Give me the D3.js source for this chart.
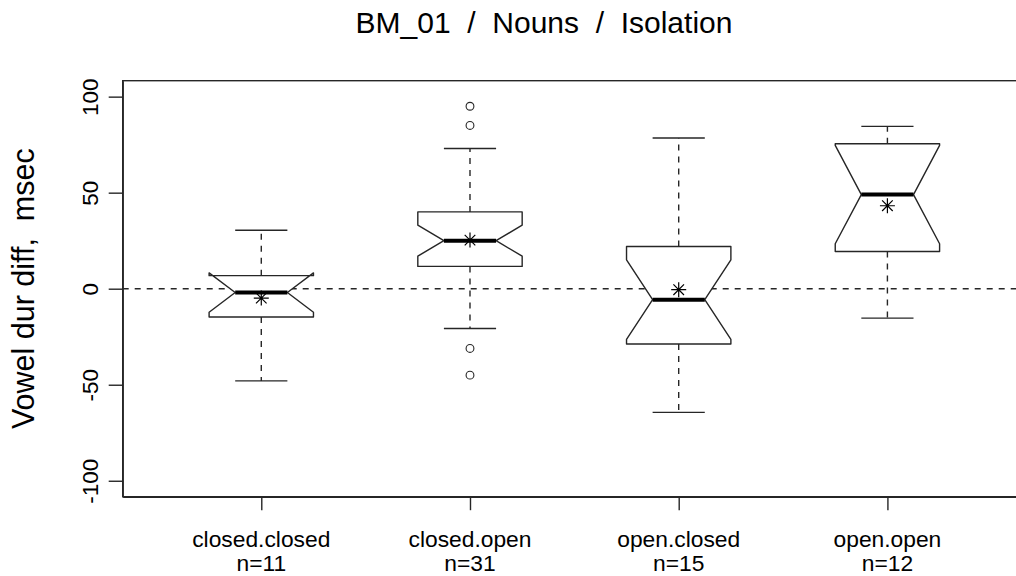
<!DOCTYPE html>
<html>
<head>
<meta charset="utf-8">
<script src="https://cdn.jsdelivr.net/npm/d3@7"></script>
<style>
  body { margin: 0; background: #fff; }
  svg text { font-family: "Liberation Sans", Arial, sans-serif; fill: #000; white-space: pre; }
</style>
</head>
<body>
<div class="chart"></div>
<script>
// values
const groups = ['closed.closed', 'closed.open', 'open.closed', 'open.open'];
const counts = [11, 31, 15, 12];
const whiskerLo = [-48, -20.7, -64.4, -15.3];
const q1 = [-14.7, 11.6, -28.8, 19.4];
const medians = [-2, 25, -5.7, 49];
const q3 = [6.8, 40, 22, 75.5];
const whiskerHi = [30.4, 73, 78.5, 84.5];
const means = [-4.9, 25.3, -0.5, 43.2];
const outliers = [[], [95, 85, -31.1, -45], [], []];
const yTicks = [-100, -50, 0, 50, 100];

const width = 1016, height = 576;
const margin = { top: 80.7, right: -10, bottom: 79.3, left: 122.7 };
const plotBottom = height - margin.bottom;
const plotRight = width - margin.right;

const svg = d3.select('.chart').append('svg')
  .attr('width', width)
  .attr('height', height);

const x = d3.scaleLinear()
  .domain([0.336, 4.664])
  .range([margin.left, plotRight]);

const y = d3.scaleLinear()
  .domain([-108.3, 108.3])
  .range([plotBottom, margin.top]);

const ink = '#262626';
const lw = 1.4;
const dash = '6,6';
const half = 0.25; // box half width in x units

// title + labels
svg.append('text')
  .attr('x', 544)
  .attr('y', 33)
  .attr('text-anchor', 'middle')
  .attr('xml:space', 'preserve')
  .style('font-size', '30px')
  .text('BM_01  /  Nouns  /  Isolation');

svg.append('text')
  .attr('transform', 'translate(34,' + ((margin.top + plotBottom) / 2) + ') rotate(-90)')
  .attr('text-anchor', 'middle')
  .attr('xml:space', 'preserve')
  .style('font-size', '30.5px')
  .text('Vowel dur diff,  msec');

// axes
const yAxis = svg.append('g')
  .attr('transform', 'translate(' + margin.left + ',0)')
  .call(d3.axisLeft(y).tickValues(yTicks).tickSize(14).tickSizeOuter(0).tickFormat(d => String(d)));
yAxis.selectAll('path, line').attr('stroke', ink).attr('stroke-width', lw);
yAxis.selectAll('text')
  .attr('transform', 'rotate(-90)')
  .attr('x', 0)
  .attr('y', -25)
  .attr('dy', 0)
  .attr('text-anchor', 'middle')
  .attr('fill', '#000')
  .style('font-size', '22.5px')
  .style('font-family', '"Liberation Sans", Arial, sans-serif');

const xAxis = svg.append('g')
  .attr('transform', 'translate(0,' + plotBottom + ')')
  .call(d3.axisBottom(x).tickValues([1, 2, 3, 4]).tickSize(13.5).tickSizeOuter(0).tickFormat(''));
xAxis.selectAll('path, line').attr('stroke', ink).attr('stroke-width', lw);

const xLab = svg.append('g').selectAll('g')
  .data(groups)
  .enter()
  .append('g')
  .attr('transform', (d, i) => 'translate(' + x(i + 1) + ',0)');
xLab.append('text')
  .attr('y', 547)
  .attr('text-anchor', 'middle')
  .style('font-size', '22.8px')
  .text(d => d);
xLab.append('text')
  .attr('y', 571)
  .attr('text-anchor', 'middle')
  .style('font-size', '22.8px')
  .text((d, i) => 'n=' + counts[i]);

// frame
svg.append('rect')
  .attr('x', margin.left)
  .attr('y', margin.top)
  .attr('width', plotRight - margin.left)
  .attr('height', plotBottom - margin.top)
  .attr('fill', 'none')
  .attr('stroke', ink)
  .attr('stroke-width', lw);

// zero reference line
svg.append('line')
  .attr('x1', margin.left)
  .attr('x2', plotRight)
  .attr('y1', y(0))
  .attr('y2', y(0))
  .attr('stroke', ink)
  .attr('stroke-width', lw)
  .attr('stroke-dasharray', dash);

const boxes = svg.append('g').selectAll('g')
  .data(groups)
  .enter()
  .append('g');

// whiskers
boxes.append('line')
  .attr('x1', (d, i) => x(i + 1)).attr('x2', (d, i) => x(i + 1))
  .attr('y1', (d, i) => y(q3[i])).attr('y2', (d, i) => y(whiskerHi[i]))
  .attr('stroke', ink).attr('stroke-width', lw).attr('stroke-dasharray', dash);
boxes.append('line')
  .attr('x1', (d, i) => x(i + 1)).attr('x2', (d, i) => x(i + 1))
  .attr('y1', (d, i) => y(q1[i])).attr('y2', (d, i) => y(whiskerLo[i]))
  .attr('stroke', ink).attr('stroke-width', lw).attr('stroke-dasharray', dash);

// staples
[whiskerHi, whiskerLo].forEach(w => {
  boxes.append('line')
    .attr('x1', (d, i) => x(i + 1 - half / 2)).attr('x2', (d, i) => x(i + 1 + half / 2))
    .attr('y1', (d, i) => y(w[i])).attr('y2', (d, i) => y(w[i]))
    .attr('stroke', ink).attr('stroke-width', lw);
});

// notched box, same construction as R's boxplot (notch = med +- 1.58*IQR/sqrt(n))
boxes.append('path')
  .attr('d', (d, i) => {
    const c = i + 1;
    const nw = 1.58 * (q3[i] - q1[i]) / Math.sqrt(counts[i]);
    const pts = [
      [c - half, q1[i]], [c - half, medians[i] - nw], [c - half / 2, medians[i]],
      [c - half, medians[i] + nw], [c - half, q3[i]], [c + half, q3[i]],
      [c + half, medians[i] + nw], [c + half / 2, medians[i]], [c + half, medians[i] - nw],
      [c + half, q1[i]]
    ];
    return d3.line().x(p => x(p[0])).y(p => y(p[1]))(pts) + 'Z';
  })
  .attr('fill', '#fff')
  .attr('stroke', ink)
  .attr('stroke-width', lw)
  .attr('stroke-linejoin', 'round');

// medians
boxes.append('line')
  .attr('x1', (d, i) => x(i + 1 - half / 2)).attr('x2', (d, i) => x(i + 1 + half / 2))
  .attr('y1', (d, i) => y(medians[i])).attr('y2', (d, i) => y(medians[i]))
  .attr('stroke', '#000').attr('stroke-width', 4);

// means as asterisks
const star = d3.symbol().type({
  draw(ctx, s) {
    const r = 7.5, k = 5.3;
    ctx.moveTo(0, -r); ctx.lineTo(0, r);
    ctx.moveTo(-r, 0); ctx.lineTo(r, 0);
    ctx.moveTo(-k, -k); ctx.lineTo(k, k);
    ctx.moveTo(-k, k); ctx.lineTo(k, -k);
  }
});
boxes.append('path')
  .attr('transform', (d, i) => 'translate(' + x(i + 1) + ',' + y(means[i]) + ')')
  .attr('d', star)
  .attr('fill', 'none')
  .attr('stroke', '#000')
  .attr('stroke-width', 1.2);

// outliers
boxes.selectAll('circle')
  .data((d, i) => outliers[i].map(v => [i + 1, v]))
  .enter()
  .append('circle')
  .attr('cx', p => x(p[0]))
  .attr('cy', p => y(p[1]))
  .attr('r', 3.9)
  .attr('fill', 'none')
  .attr('stroke', ink)
  .attr('stroke-width', 1.1);
</script>
</body>
</html>
